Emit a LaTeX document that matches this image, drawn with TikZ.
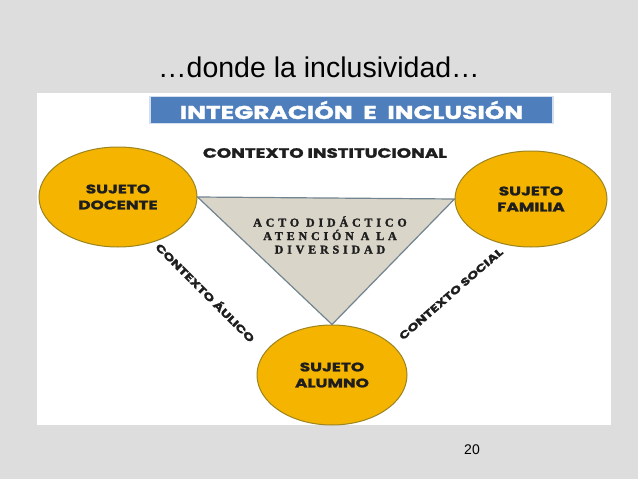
\documentclass[tikz,border=0pt]{standalone}
\usepackage{fontspec}
\setmainfont{Liberation Sans}
\newfontfamily\popfont[FakeStretch=1.35, BoldFeatures={FakeBold=1.6}]{Poppins}
\newfontfamily\actofont[LetterSpace=32, BoldFeatures={FakeBold=1.8}]{Liberation Serif}
\usetikzlibrary{shapes.geometric}

\definecolor{slidegray}{HTML}{DDDDDD}
\definecolor{sujetoyellow}{HTML}{F4B400}
\definecolor{sujetoedge}{HTML}{9C8420}
\definecolor{bannerblue}{HTML}{4E7FBC}
\definecolor{actofill}{HTML}{D9D5C8}
\definecolor{actoedge}{HTML}{72848F}
\definecolor{labeltext}{HTML}{1E1E1E}

\begin{document}
\begin{tikzpicture}[x=1pt,y=-1pt,
    sujeto/.style={ellipse, draw=sujetoedge, line width=1pt, fill=sujetoyellow,
      inner sep=0pt, align=center, text=labeltext,
      font=\popfont\bfseries\fontsize{12.5}{16}\selectfont},
    contexto/.style={inner sep=0pt, text=labeltext,
      font=\popfont\bfseries\fontsize{10.5}{12}\selectfont}]
			%%%%% START %%%%%
			
			\fill[slidegray] (0, 0) rectangle (638, 479);
			\node[font=\fontsize{28.5}{30}\selectfont] (titulo) at (319, 67) {…donde la inclusividad…};
			\fill[white] (37, 93) rectangle (611, 425);
			
			\node[fill=bannerblue, draw=bannerblue!25, line width=1.2pt, minimum width=403pt,
			  minimum height=27pt, inner sep=0pt, text=white,
			  font=\popfont\bfseries\fontsize{18.5}{19}\selectfont] (banner) at (351.5, 110)
			  {INTEGRACIÓN\ \ E\ \ INCLUSIÓN};
			
			\node[contexto, font=\popfont\bfseries\fontsize{13.5}{14}\selectfont] (institucional) at (325, 153) {CONTEXTO INSTITUCIONAL};
			
			\begin{scope}
			\clip (37, 93) rectangle (611, 425);
			\node[sujeto, minimum width=158pt, minimum height=100pt] (docente) at (118, 197) {SUJETO\\DOCENTE};
			\node[sujeto, minimum width=152pt, minimum height=96pt] (familia) at (531, 199) {SUJETO\\FAMILIA};
			\node[sujeto, minimum width=150pt, minimum height=100pt] (alumno) at (332, 375) {SUJETO\\ALUMNO};
			\end{scope}
			
			\filldraw[fill=actofill, draw=actoedge, line width=1.2pt] (docente.east) -- (familia.west) -- (alumno.north) -- cycle;
			\node[align=center, inner sep=0pt, text=labeltext,
			  font=\actofont\bfseries\fontsize{12}{13.5}\selectfont] (acto) at (330, 235)
			  {ACTO DIDÁCTICO\\ATENCIÓN A LA\\DIVERSIDAD};
			
			\node[contexto, rotate=-45] (aulico) at (206, 292) {CONTEXTO ÁULICO};
			\node[contexto, rotate=41] (social) at (451, 294) {CONTEXTO SOCIAL};
			
			\node[font=\fontsize{14}{16}\selectfont] (pagina) at (472, 450) {20};
			
			%%%%% END %%%%%
\end{tikzpicture}
\end{document}
